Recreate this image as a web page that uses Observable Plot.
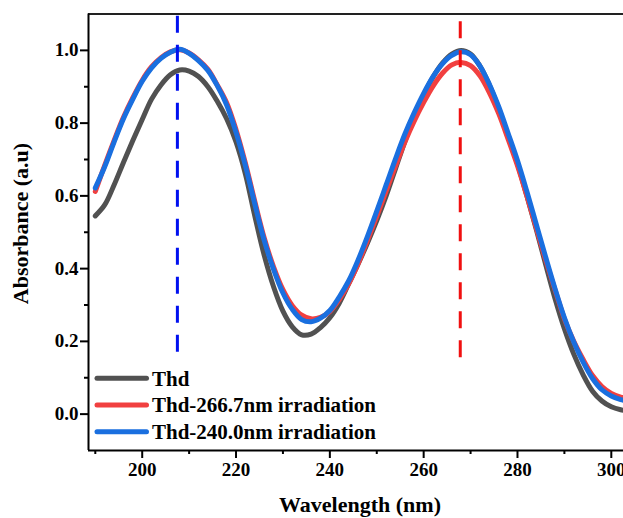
<!DOCTYPE html>
<html>
<head>
<meta charset="utf-8">
<script src="https://cdn.jsdelivr.net/npm/d3@7"></script>
<script src="https://cdn.jsdelivr.net/npm/@observablehq/plot@0.6"></script>
<style>
  html, body { margin: 0; padding: 0; background: #fff; overflow: hidden; }
  #chart { width: 623px; height: 518px; overflow: hidden; }
</style>
</head>
<body>
<div id="chart"></div>
<script>
// ---- Data ----
const wavelengths = [190,192,194,196,198,200,202,204,206,208,210,212,214,216,218,220,222,224,226,228,230,232,234,236,238,240,242,244,246,248,250,252,254,256,258,260,262,264,266,268,270,272,274,276,278,280,282,284,286,288,290,292,294,296,298,300,302,304];

const thd = [0.545,0.575,0.630,0.692,0.752,0.810,0.866,0.905,0.933,0.946,0.943,0.928,0.900,0.860,0.812,0.748,0.660,0.545,0.437,0.350,0.283,0.240,0.218,0.220,0.238,0.265,0.305,0.358,0.412,0.470,0.532,0.600,0.675,0.750,0.820,0.878,0.927,0.965,0.990,1.000,0.990,0.957,0.905,0.840,0.765,0.688,0.600,0.508,0.412,0.318,0.235,0.165,0.108,0.063,0.036,0.020,0.012,0.008];

const thd2667 = [0.612,0.684,0.752,0.816,0.870,0.918,0.955,0.980,0.996,1.002,0.993,0.974,0.948,0.905,0.856,0.782,0.690,0.585,0.485,0.405,0.342,0.298,0.272,0.262,0.266,0.282,0.315,0.358,0.413,0.477,0.544,0.613,0.682,0.748,0.806,0.857,0.902,0.937,0.960,0.967,0.958,0.930,0.884,0.826,0.756,0.683,0.600,0.512,0.424,0.342,0.262,0.200,0.150,0.106,0.076,0.057,0.047,0.042];

const thd2400 = [0.622,0.680,0.748,0.812,0.866,0.915,0.952,0.978,0.995,1.003,0.992,0.972,0.945,0.903,0.850,0.775,0.683,0.578,0.478,0.398,0.333,0.288,0.260,0.254,0.264,0.285,0.322,0.366,0.423,0.488,0.558,0.630,0.702,0.770,0.829,0.882,0.928,0.963,0.986,0.996,0.988,0.957,0.907,0.845,0.772,0.697,0.612,0.522,0.432,0.345,0.265,0.198,0.143,0.098,0.067,0.050,0.040,0.035];

const seriesNames = ["Thd", "Thd-266.7nm irradiation", "Thd-240.0nm irradiation"];
const seriesColors = ["#515151", "#F14040", "#1A6FDF"];

const peakWavelengths = [207.5, 267.8];
const peakLineBottoms = [0.17, 0.155];
const peakLineColors = ["#0010f0", "#f01010"];

const xMajorTicks = [200, 220, 240, 260, 280, 300];
const xMinorTicks = [190, 210, 230, 250, 270, 290];
const yMajorTicks = [0.0, 0.2, 0.4, 0.6, 0.8, 1.0];
const yMinorTicks = [0.1, 0.3, 0.5, 0.7, 0.9];

const xDomain = [188.55, 302.6];
const yDomain = [-0.1, 1.1];

// ---- Build tables ----
const allSeries = [thd, thd2667, thd2400];
const rows = [];
allSeries.forEach((vals, si) => {
  vals.forEach((v, i) => rows.push({wl: wavelengths[i], abs: v, series: seriesNames[si]}));
});
const peaks = peakWavelengths.map((w, i) => ({wl: w, bottom: peakLineBottoms[i], color: peakLineColors[i]}));

const FONT = "'Liberation Serif', 'Times New Roman', serif";

const plot = Plot.plot({
  width: 623,
  height: 518,
  marginLeft: 88,
  marginRight: 0,
  marginTop: 13.5,
  marginBottom: 68,
  x: {domain: xDomain},
  y: {domain: yDomain},
  color: {domain: seriesNames, range: seriesColors},
  style: {fontFamily: FONT, fontWeight: "bold", fontSize: "19px", color: "#000", background: "#fff", overflow: "hidden"},
  marks: [
    ...seriesNames.map(name =>
      Plot.line(rows.filter(r => r.series === name), {
        x: "wl", y: "abs", stroke: "series", strokeWidth: 5,
        curve: "catmull-rom", clip: true
      })
    ),
    Plot.ruleX(peaks, {x: "wl", y1: "bottom", y2: yDomain[1], stroke: "color", strokeWidth: 3, strokeDasharray: "17,12"}),
    Plot.ruleY([yDomain[0]], {stroke: "#000", strokeWidth: 2}),
    Plot.ruleY([yDomain[1]], {stroke: "#222", strokeWidth: 2}),
    Plot.ruleX([xDomain[0]], {stroke: "#000", strokeWidth: 2}),
    Plot.axisX(xMajorTicks, {anchor: "bottom", tickSize: 8, tickPadding: 4, strokeWidth: 2, fontSize: 19, tickFormat: d => String(d), label: null}),
    Plot.axisX(xMinorTicks, {anchor: "bottom", tickSize: 4, strokeWidth: 2, text: null, label: null}),
    Plot.axisY(yMajorTicks, {anchor: "left", tickSize: 8, tickPadding: 2, strokeWidth: 2, fontSize: 19, tickFormat: d3.format(".1f"), label: null}),
    Plot.axisY(yMinorTicks, {anchor: "left", tickSize: 4, strokeWidth: 2, text: null, label: null})
  ]
});

document.getElementById("chart").appendChild(plot);

// ---- Titles and legend (layout) ----
const svg = d3.select(plot);
svg.append("text")
  .attr("transform", "translate(20,223.5) rotate(-90)")
  .attr("text-anchor", "middle").attr("dominant-baseline", "central")
  .style("font-family", FONT).style("font-weight", "bold").style("font-size", "22px")
  .attr("fill", "#000")
  .text("Absorbance (a.u)");
svg.append("text")
  .attr("x", 360).attr("y", 512)
  .attr("text-anchor", "middle")
  .style("font-family", FONT).style("font-weight", "bold").style("font-size", "22px")
  .attr("fill", "#000")
  .text("Wavelength (nm)");

const legendY = [378.3, 405, 431.7];
const lg = svg.append("g").attr("text-anchor", "start");
seriesNames.forEach((name, i) => {
  lg.append("line")
    .attr("x1", 97).attr("x2", 146.5)
    .attr("y1", legendY[i]).attr("y2", legendY[i])
    .attr("stroke", seriesColors[i]).attr("stroke-width", 5).attr("stroke-linecap", "round");
  lg.append("text")
    .attr("x", 152).attr("y", legendY[i]).attr("dy", "0.35em")
    .attr("text-anchor", "start")
    .style("font-family", FONT).style("font-weight", "bold").style("font-size", "21px")
    .attr("fill", "#000")
    .text(name);
});
</script>
</body>
</html>
